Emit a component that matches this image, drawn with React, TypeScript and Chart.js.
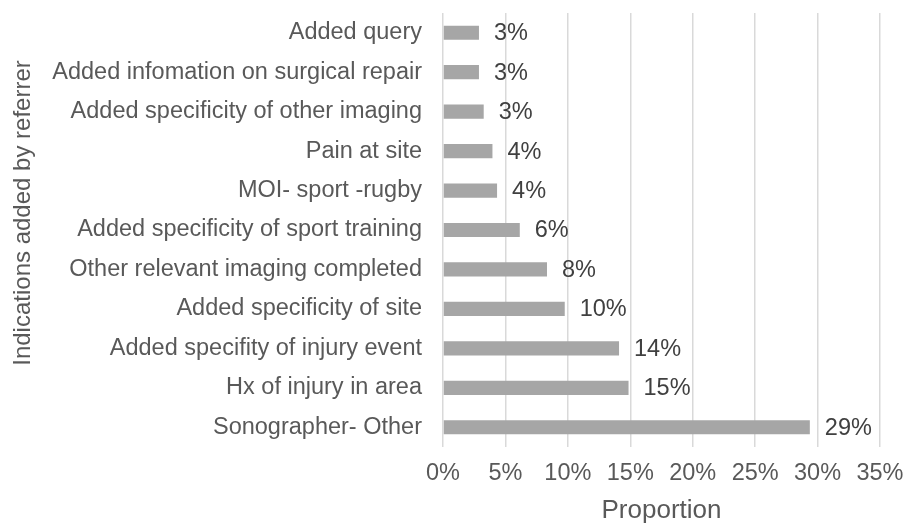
import React, { useEffect, useRef } from "react";
import { Chart, registerables } from "chart.js";

Chart.register(...registerables);

const categories: string[] = [
  "Added query",
  "Added infomation on surgical repair",
  "Added specificity of other imaging",
  "Pain at site",
  "MOI- sport -rugby",
  "Added specificity of sport training",
  "Other relevant imaging completed",
  "Added specificity of site",
  "Added specifity of injury event",
  "Hx of injury in area",
  "Sonographer- Other",
];

const proportions: number[] = [2.88, 2.88, 3.26, 3.96, 4.33, 6.15, 8.33, 9.75, 14.1, 14.86, 29.38];

const xTickValues: number[] = [0, 5, 10, 15, 20, 25, 30, 35];

const xAxisTitle = "Proportion";
const yAxisTitle = "Indications added by referrer";

const FONT = "'Liberation Sans', Arial, sans-serif";

export default function App() {
  const canvasRef = useRef<HTMLCanvasElement | null>(null);

  useEffect(() => {
    const canvas = canvasRef.current;
    if (!canvas) return;

    const labelPlugin = {
      id: "barLabels",
      afterDatasetsDraw(chart: any) {
        const ctx = chart.ctx;
        const meta = chart.getDatasetMeta(0);
        ctx.save();
        ctx.font = `23.5px ${FONT}`;
        ctx.fillStyle = "#404040";
        ctx.textAlign = "left";
        ctx.textBaseline = "middle";
        meta.data.forEach((bar: any, i: number) => {
          const v = proportions[i];
          ctx.fillText(`${Math.round(v)}%`, bar.x + 15, bar.y + 1);
        });
        ctx.restore();
      },
      afterDraw(chart: any) {
        const ctx = chart.ctx;
        const area = chart.chartArea;
        ctx.save();
        ctx.font = `24px ${FONT}`;
        ctx.fillStyle = "#595959";
        ctx.textAlign = "center";
        ctx.textBaseline = "middle";
        ctx.translate(23, (area.top + area.bottom) / 2 - 17);
        ctx.rotate(-Math.PI / 2);
        ctx.fillText(yAxisTitle, 0, 0);
        ctx.restore();
      },
    };

    const chart = new Chart(canvas, {
      type: "bar",
      data: {
        labels: categories,
        datasets: [
          {
            data: proportions,
            backgroundColor: "#A6A6A6",
            borderWidth: 0,
            barPercentage: 0.36,
            categoryPercentage: 1,
          },
        ],
      },
      options: {
        indexAxis: "y",
        responsive: false,
        animation: false,
        layout: { padding: { top: 13, right: 26, bottom: 0, left: 0 } },
        plugins: {
          legend: { display: false },
          tooltip: { enabled: false },
        },
        scales: {
          x: {
            min: 0,
            max: 35,
            afterBuildTicks: (scale: any) => {
              scale.ticks = xTickValues.map((v) => ({ value: v }));
            },
            afterFit: (scale: any) => {
              scale.height = 79;
              scale.paddingLeft = 0;
              scale.paddingRight = 0;
            },
            ticks: {
              callback: (v: any) => `${v}%`,
              color: "#595959",
              font: { family: FONT, size: 23.5 },
              padding: 12,
              maxRotation: 0,
              autoSkip: false,
            },
            grid: {
              color: "#D9D9D9",
              lineWidth: 1.5,
              drawTicks: false,
            },
            border: { display: false },
            title: {
              display: true,
              text: xAxisTitle,
              color: "#595959",
              font: { family: FONT, size: 26 },
              padding: { top: 0, bottom: 0 },
            },
          },
          y: {
            afterFit: (scale: any) => {
              scale.width = 443;
              scale.paddingTop = 0;
              scale.paddingBottom = 0;
            },
            ticks: {
              color: "#595959",
              font: { family: FONT, size: 23.5 },
              padding: 21,
              autoSkip: false,
            },
            grid: { display: false, drawTicks: false },
            border: { display: false },
          },
        },
      },
      plugins: [labelPlugin],
    });

    return () => {
      chart.destroy();
    };
  }, []);

  return (
    <div style={{ position: "absolute", left: 0, top: 0, width: 906, height: 526, background: "#fff" }}>
      <canvas ref={canvasRef} width={906} height={526} style={{ display: "block" }} />
    </div>
  );
}
